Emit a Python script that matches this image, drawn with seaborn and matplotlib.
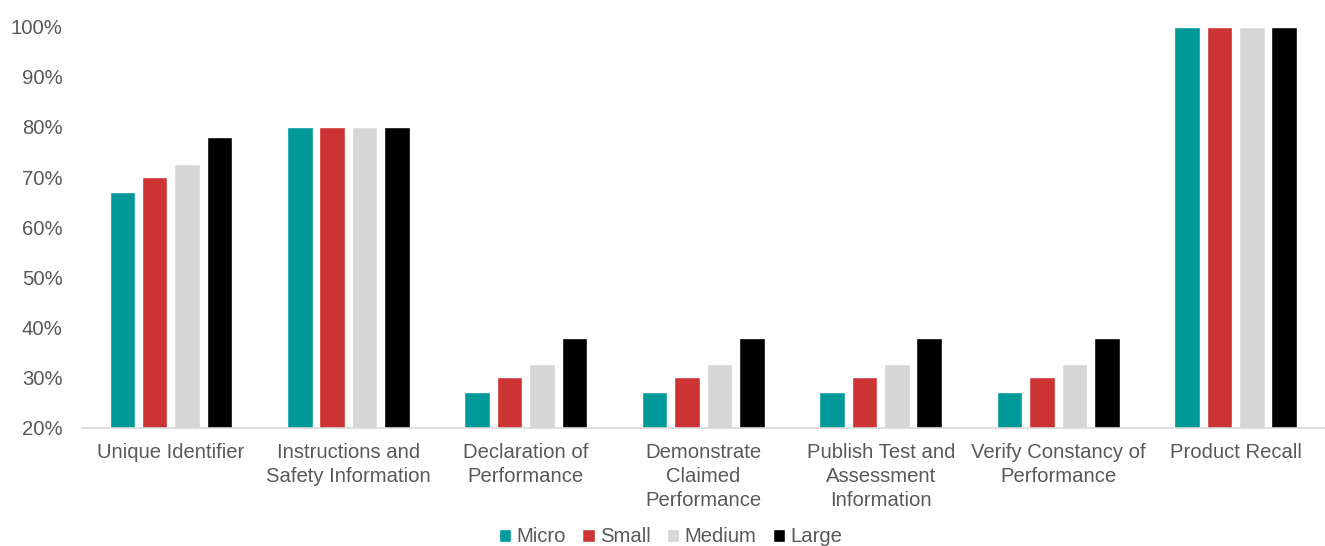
import matplotlib
matplotlib.use("Agg")
import matplotlib.pyplot as plt
import seaborn as sns
import pandas as pd
from matplotlib.patches import Patch
from matplotlib.ticker import PercentFormatter, MultipleLocator

categories = [
    "Unique Identifier",
    "Instructions and\nSafety Information",
    "Declaration of\nPerformance",
    "Demonstrate\nClaimed\nPerformance",
    "Publish Test and\nAssessment\nInformation",
    "Verify Constancy of\nPerformance",
    "Product Recall",
]
sizes = ["Micro", "Small", "Medium", "Large"]
micro = [67.0, 80.0, 27.0, 27.0, 27.0, 27.0, 100.0]
small = [70.0, 80.0, 30.0, 30.0, 30.0, 30.0, 100.0]
medium = [72.7, 80.0, 32.6, 32.6, 32.6, 32.6, 100.0]
large = [78.0, 80.0, 37.8, 37.8, 37.8, 37.8, 100.0]
colors = ["#009999", "#CD3333", "#D6D6D6", "#000000"]

rows = []
for size, vals in zip(sizes, [micro, small, medium, large]):
    for cat, v in zip(categories, vals):
        rows.append({"category": cat, "size": size, "value": v})
df = pd.DataFrame(rows)

sns.set_theme(style="white")
plt.rcParams["font.family"] = ["Liberation Sans", "DejaVu Sans"]

FS = 14.6
fig, ax = plt.subplots(figsize=(13.25, 5.46), dpi=100)
fig.subplots_adjust(left=0.062, right=0.9995, top=0.951, bottom=0.217)

sns.barplot(
    data=df, x="category", y="value", hue="size",
    order=categories, hue_order=sizes, palette=colors,
    width=0.73, gap=0.21, ax=ax, legend=False, saturation=1,
    bottom=0,
)

ax.set_ylim(20, 100)
ax.yaxis.set_major_locator(MultipleLocator(10))
ax.yaxis.set_major_formatter(PercentFormatter(decimals=0))
ax.set_xlabel("")
ax.set_ylabel("")
ax.set_xlim(-0.5, len(categories) - 0.5)

for side in ["top", "right", "left"]:
    ax.spines[side].set_visible(False)
ax.spines["bottom"].set_color("#D9D9D9")
ax.spines["bottom"].set_linewidth(1.2)

ax.tick_params(axis="y", length=0, pad=14, labelsize=FS, labelcolor="#595959")
ax.tick_params(axis="x", length=0, pad=11, labelsize=FS, labelcolor="#595959")
for lbl in ax.get_xticklabels():
    lbl.set_linespacing(1.35)

handles = [Patch(facecolor=c, label=s) for c, s in zip(colors, sizes)]
fig.legend(
    handles=handles, loc="center", bbox_to_anchor=(0.506, 0.0165),
    ncol=4, frameon=False, fontsize=FS, labelcolor="#595959",
    handlelength=0.62, handleheight=0.62, handletextpad=0.25,
    columnspacing=0.8,
)

fig.savefig("out.png", dpi=100)
